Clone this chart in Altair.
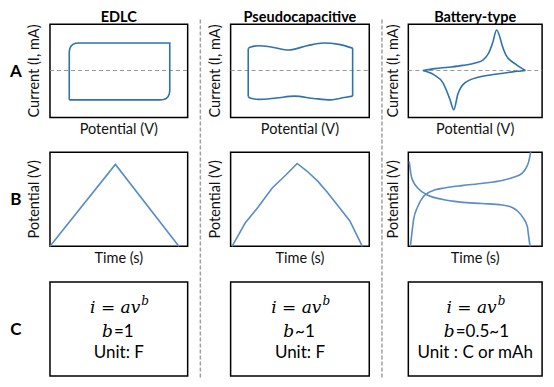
import altair as alt
import pandas as pd

# ---------------- data ----------------
col_titles = ["EDLC", "Pseudocapacitive", "Battery-type"]
row_labels = ["A", "B", "C"]
a_xtitle, a_ytitle = "Potential (V)", "Current (I, mA)"
b_xtitle, b_ytitle = "Time (s)", "Potential (V)"

# Row A – cyclic voltammograms, potential / current normalised to the panel (0..1)
edlc_cv_x = [0.14, 0.14, 0.143, 0.152, 0.166, 0.185, 0.21, 0.87, 0.87, 0.867, 0.858, 0.844, 0.825, 0.80, 0.14]
edlc_cv_y = [0.19, 0.70, 0.735, 0.765, 0.785, 0.797, 0.80, 0.80, 0.29, 0.255, 0.225, 0.205, 0.193, 0.19, 0.19]

pseudo_cv_top_x = [0.127, 0.14, 0.2, 0.3, 0.42, 0.55, 0.67, 0.78, 0.88]
pseudo_cv_top_y = [0.74, 0.755, 0.77, 0.755, 0.725, 0.77, 0.80, 0.785, 0.745]
pseudo_cv_bot_x = [0.127, 0.14, 0.2, 0.33, 0.46, 0.6, 0.72, 0.82, 0.88]
pseudo_cv_bot_y = [0.225, 0.21, 0.195, 0.21, 0.23, 0.205, 0.19, 0.215, 0.23]
pseudo_cv_left_x, pseudo_cv_left_y = [0.127, 0.127], [0.225, 0.74]
pseudo_cv_right_x, pseudo_cv_right_y = [0.88, 0.88], [0.23, 0.745]

battery_cv_up_x = [0.11, 0.2, 0.3, 0.41, 0.5, 0.56, 0.6, 0.63, 0.66, 0.685, 0.70, 0.73, 0.8, 0.875]
battery_cv_up_y = [0.505, 0.525, 0.54, 0.56, 0.585, 0.62, 0.69, 0.80, 0.94, 0.86, 0.78, 0.67, 0.575, 0.505]
battery_cv_dn_x = [0.11, 0.19, 0.26, 0.31, 0.34, 0.37, 0.42, 0.53, 0.65, 0.78, 0.875]
battery_cv_dn_y = [0.505, 0.46, 0.37, 0.20, 0.085, 0.25, 0.37, 0.436, 0.464, 0.49, 0.505]
zero_current = 0.505

# Row B – galvanostatic charge/discharge, time / potential normalised (0..1)
edlc_gcd_x = [0.0, 0.475, 0.936]
edlc_gcd_y = [0.0, 0.87, 0.0]
pseudo_gcd_x = [0.01, 0.06, 0.106, 0.2, 0.3, 0.4, 0.48, 0.55, 0.63, 0.7, 0.77, 0.86, 0.95]
pseudo_gcd_y = [0.0, 0.13, 0.25, 0.42, 0.62, 0.76, 0.88, 0.80, 0.69, 0.57, 0.44, 0.27, 0.0]
battery_chg_x = [0.015, 0.025, 0.04, 0.07, 0.12, 0.2, 0.27, 0.4, 0.56, 0.7, 0.78, 0.85, 0.88, 0.9, 0.915]
battery_chg_y = [0.0, 0.12, 0.29, 0.42, 0.54, 0.6, 0.62, 0.645, 0.67, 0.70, 0.73, 0.775, 0.83, 0.9, 1.0]
battery_dis_x = [0.007, 0.02, 0.04, 0.07, 0.15, 0.25, 0.39, 0.55, 0.7, 0.78, 0.82, 0.86, 0.89, 0.9, 0.91]
battery_dis_y = [0.9, 0.76, 0.68, 0.62, 0.54, 0.5, 0.47, 0.455, 0.44, 0.41, 0.37, 0.3, 0.21, 0.1, 0.0]

# Row C – text
c_b_value = ["=1", "~1", "=0.5~1"]
c_units = ["Unit: F", "Unit: F", "Unit : C or mAh"]

# ---------------- layout (reference pixel frame) ----------------
box_x = [(43, 184), (228, 370), (410, 547)]
box_y = [(17, 114), (150, 248), (285, 383)]
sep_x = [197, 383]
W, H = 538, 371
XD, YD = [0, 551], [386, 0]
A_COL, B_COL = "#2f72ad", "#5a8cc6"


def to_px(c, nx):
    x0, x1 = box_x[c]
    return x0 + nx * (x1 - x0)


def to_py(r, ny):
    y0, y1 = box_y[r]
    return y1 - ny * (y1 - y0)


curve_rows = []


def add(c, r, seg, xs, ys, smooth, color):
    for i, (a, b) in enumerate(zip(xs, ys)):
        curve_rows.append(dict(seg=seg, i=i, px=to_px(c, a), py=to_py(r, b),
                               smooth=smooth, color=color))


add(0, 0, "edlc_cv", edlc_cv_x, edlc_cv_y, False, A_COL)
add(1, 0, "ps_top", pseudo_cv_top_x, pseudo_cv_top_y, True, A_COL)
add(1, 0, "ps_bot", pseudo_cv_bot_x, pseudo_cv_bot_y, True, A_COL)
add(1, 0, "ps_l", pseudo_cv_left_x, pseudo_cv_left_y, False, A_COL)
add(1, 0, "ps_r", pseudo_cv_right_x, pseudo_cv_right_y, False, A_COL)
add(2, 0, "bt_up", battery_cv_up_x, battery_cv_up_y, True, A_COL)
add(2, 0, "bt_dn", battery_cv_dn_x, battery_cv_dn_y, True, A_COL)
add(0, 1, "edlc_gcd", edlc_gcd_x, edlc_gcd_y, False, B_COL)
add(1, 1, "ps_gcd", pseudo_gcd_x, pseudo_gcd_y, False, B_COL)
add(2, 1, "bt_chg", battery_chg_x, battery_chg_y, True, B_COL)
add(2, 1, "bt_dis", battery_dis_x, battery_dis_y, True, B_COL)
curves = pd.DataFrame(curve_rows)

boxes = pd.DataFrame([dict(x0=bx[0], x1=bx[1], y0=by[0], y1=by[1])
                      for bx in box_x for by in box_y])
zeros = pd.DataFrame([dict(x0=bx[0], x1=bx[1], y=to_py(0, zero_current)) for bx in box_x])
seps = pd.DataFrame([dict(x=s, y0=12, y1=387) for s in sep_x])

titles = pd.DataFrame([dict(px=(bx[0] + bx[1]) / 2, py=10, t=t) for bx, t in zip(box_x, col_titles)])
rlabels = pd.DataFrame([dict(px=8, py=(by[0] + by[1]) / 2 + 1, t=t) for by, t in zip(box_y, row_labels)])
xtitles = pd.DataFrame([dict(px=(bx[0] + bx[1]) / 2, py=box_y[r][1] + 13, t=t)
                        for bx in box_x for r, t in [(0, a_xtitle), (1, b_xtitle)]])
ytitles = pd.DataFrame([dict(px=bx[0] - 15, py=(box_y[r][0] + box_y[r][1]) / 2, t=t)
                        for bx in box_x for r, t in [(0, a_ytitle), (1, b_ytitle)]])

cx = [(bx[0] + bx[1]) / 2 for bx in box_x]
eq_main = pd.DataFrame([dict(px=c + 22, py=317, t="i = av") for c in cx])
eq_sup = pd.DataFrame([dict(px=c + 23, py=309, t="b") for c in cx])
b_off = [-6, -6, -21]
b_ital = pd.DataFrame([dict(px=c + o, py=342, t="b") for c, o in zip(cx, b_off)])
b_rest = pd.DataFrame([dict(px=c + o + 1, py=342, t=v) for c, o, v in zip(cx, b_off, c_b_value)])
units = pd.DataFrame([dict(px=c, py=364, t=u) for c, u in zip(cx, c_units)])


def X(f="px"):
    return alt.X(f"{f}:Q", scale=alt.Scale(domain=XD, nice=False, zero=False), axis=None)


def Y(f="py"):
    return alt.Y(f"{f}:Q", scale=alt.Scale(domain=YD, nice=False, zero=False), axis=None)


SANS = "Lato"
SERIF = "DejaVu Serif"

sep_layer = alt.Chart(seps).mark_rule(color="#a0a0a0", strokeWidth=1.5, strokeDash=[4, 2]).encode(
    x=X("x"), y=Y("y0"), y2="y1")
box_layer = alt.Chart(boxes).mark_rect(fill="white", stroke="black", strokeWidth=1.5).encode(
    x=X("x0"), x2="x1", y=Y("y0"), y2="y1")
zero_layer = alt.Chart(zeros).mark_rule(color="#999999", strokeWidth=1.2, strokeDash=[4, 3]).encode(
    x=X("x0"), x2="x1", y=Y("y"))
smooth_layer = alt.Chart(curves).transform_filter("datum.smooth").mark_line(
    strokeWidth=1.6, interpolate="monotone").encode(
    x=X(), y=Y(), detail="seg:N", order="i:Q", color=alt.Color("color:N", scale=None))
straight_layer = alt.Chart(curves).transform_filter("!datum.smooth").mark_line(
    strokeWidth=1.6, interpolate="linear").encode(
    x=X(), y=Y(), detail="seg:N", order="i:Q", color=alt.Color("color:N", scale=None))


def txt(df, **kw):
    return alt.Chart(df).mark_text(**kw).encode(x=X(), y=Y(), text="t:N")


layers = [
    sep_layer, box_layer, zero_layer, smooth_layer, straight_layer,
    txt(titles, font=SANS, fontSize=14.5, fontWeight="bold", color="black", baseline="middle"),
    txt(rlabels, font=SANS, fontSize=17, fontWeight="bold", color="black", baseline="middle"),
    txt(xtitles, font=SANS, fontSize=14.5, color="#111111", baseline="middle"),
    txt(ytitles, font=SANS, fontSize=14.5, color="#111111", baseline="middle", angle=270),
    txt(eq_main, font=SERIF, fontSize=17, fontStyle="italic", color="black", align="right",
        baseline="alphabetic"),
    txt(eq_sup, font=SERIF, fontSize=12, fontStyle="italic", color="black", align="left",
        baseline="alphabetic"),
    txt(b_ital, font=SERIF, fontSize=17, fontStyle="italic", color="black", align="right",
        baseline="alphabetic"),
    txt(b_rest, font=SANS, fontSize=17, color="black", align="left", baseline="alphabetic"),
    txt(units, font=SANS, fontSize=17, color="black", align="center", baseline="alphabetic"),
]

chart = alt.layer(*layers).properties(
    width=W, height=H, padding=0, background="white",
    autosize=alt.AutoSizeParams(type="none"),
).configure_view(stroke=None)

chart.save("out.html", embed_options={"renderer": "svg", "actions": False})
